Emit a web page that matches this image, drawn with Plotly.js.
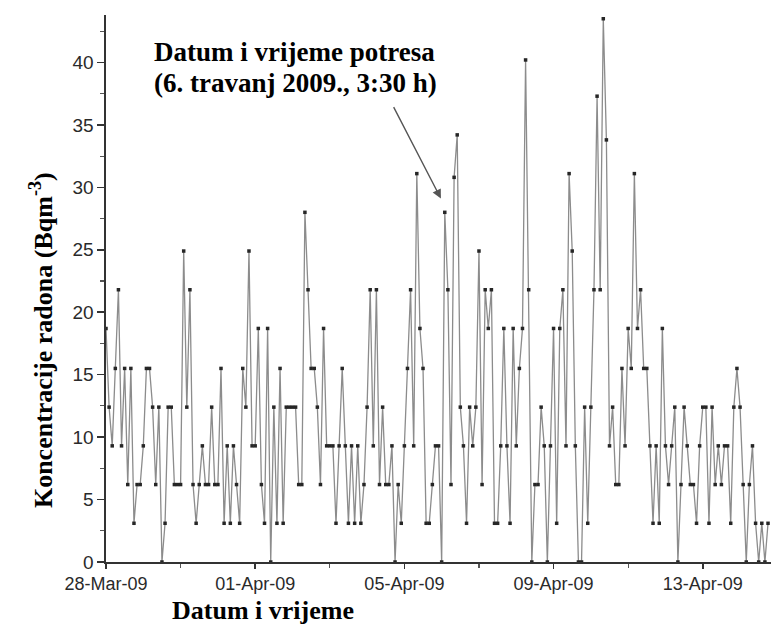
<!DOCTYPE html>
<html>
<head>
<meta charset="utf-8">
<script src="https://cdn.plot.ly/plotly-3.0.1.min.js"></script>
<style>html,body{margin:0;padding:0;background:#fff;}#chart{width:771px;height:626px;}</style>
</head>
<body>
<div id="chart"></div>
<script>
// Radon concentration (Bq m^-3), one reading every 2 hours from 28-Mar-2009 00:00
const startTime = '2009-03-28T00:00:00';
const stepHours = 2;

const radon_28Mar_31Mar = [18.7, 12.4, 9.3, 15.5, 21.8, 9.3, 15.5, 6.2, 15.5, 3.1, 6.2, 6.2,
  9.3, 15.5, 15.5, 12.4, 6.2, 12.4, 0, 3.1, 12.4, 12.4, 6.2, 6.2,
  6.2, 24.9, 12.4, 21.8, 6.2, 3.1, 6.2, 9.3, 6.2, 6.2, 12.4, 6.2,
  6.2, 15.5, 3.1, 9.3, 3.1, 9.3];
const radon_31Mar_03Apr = [6.2, 3.1, 15.5, 12.4, 24.9, 9.3, 9.3, 18.7, 6.2, 3.1, 18.7, 0,
  12.4, 3.1, 15.5, 3.1, 12.4, 12.4, 12.4, 12.4, 6.2, 6.2, 28.0, 21.8,
  15.5, 15.5, 12.4, 6.2, 18.7, 9.3, 9.3, 9.3, 3.1, 9.3, 15.5, 9.3,
  3.1, 9.3, 3.1, 9.3, 3.1, 6.2];
const radon_04Apr_07Apr = [12.4, 21.8, 9.3, 21.8, 6.2, 12.4, 6.2, 6.2, 9.3, 0, 6.2, 3.1,
  9.3, 15.5, 21.8, 9.3, 31.1, 18.7, 15.5, 3.1, 3.1, 6.2, 9.3, 9.3,
  0, 28.0, 21.8, 6.2, 30.8, 34.2, 12.4, 9.3, 3.1, 12.4, 9.3, 12.4,
  24.9, 6.2, 21.8, 18.7, 21.8, 3.1];
const radon_07Apr_11Apr = [3.1, 9.3, 18.7, 9.3, 3.1, 18.7, 9.3, 15.5, 18.7, 40.2, 21.8, 0,
  6.2, 6.2, 12.4, 9.3, 0, 9.3, 18.7, 3.1, 18.7, 21.8, 9.3, 31.1,
  24.9, 9.3, 0, 0, 12.4, 3.1, 12.4, 21.8, 37.3, 21.8, 43.5, 33.8,
  9.3, 12.4, 6.2, 6.2, 15.5, 9.3];
const radon_11Apr_14Apr = [18.7, 15.5, 31.1, 18.7, 21.8, 15.5, 15.5, 9.3, 3.1, 9.3, 3.1, 18.7,
  9.3, 6.2, 9.3, 12.4, 0, 6.2, 12.4, 9.3, 6.2, 6.2, 3.1, 9.3,
  12.4, 12.4, 3.1, 12.4, 6.2, 9.3, 6.2, 9.3, 9.3, 3.1, 12.4, 15.5,
  12.4, 6.2, 0, 6.2, 9.3, 3.1, 0, 3.1, 0, 3.1];

const radon = [].concat(radon_28Mar_31Mar, radon_31Mar_03Apr, radon_04Apr_07Apr,
                        radon_07Apr_11Apr, radon_11Apr_14Apr);

function pad(n){ return (n < 10 ? '0' : '') + n; }
const t0 = Date.parse(startTime + 'Z');
const times = radon.map(function(_, i){
  const d = new Date(t0 + i * stepHours * 3600000);
  return d.getUTCFullYear() + '-' + pad(d.getUTCMonth()+1) + '-' + pad(d.getUTCDate()) +
         ' ' + pad(d.getUTCHours()) + ':00';
});

const yTitle = 'Koncentracije radona (Bqm<sup>-3</sup>)';
const xTitle = 'Datum i vrijeme';
const quakeLine1 = 'Datum i vrijeme potresa';
const quakeLine2 = '(6. travanj 2009., 3:30 h)';

const trace = {
  x: times, y: radon, type: 'scatter', mode: 'lines+markers',
  line: {color: '#8c8c8c', width: 1.3},
  marker: {symbol: 'square', size: 3.5, color: '#262626'},
  hoverinfo: 'skip'
};

const serif = 'Liberation Serif, Times New Roman, serif';
const sans = 'Liberation Sans, Arial, sans-serif';

const layout = {
  width: 771, height: 626,
  margin: {l: 106, r: 0, t: 15, b: 64},
  paper_bgcolor: '#fff', plot_bgcolor: '#fff',
  showlegend: false,
  xaxis: {
    type: 'date',
    range: ['2009-03-28 00:00', '2009-04-14 19:55'],
    tick0: '2009-03-28', dtick: 4 * 86400000,
    tickformat: '%d-%b-%y',
    ticks: 'outside', ticklen: 5, tickwidth: 1.5, tickcolor: '#333',
    minor: {dtick: 2 * 86400000, ticks: 'outside', ticklen: 4, tickwidth: 1.2, tickcolor: '#555'},
    showline: true, linecolor: '#333', linewidth: 1.6,
    showgrid: false, zeroline: false,
    tickfont: {family: sans, size: 18, color: '#2a2a2a'}
  },
  yaxis: {
    range: [0, 43.8],
    tick0: 0, dtick: 5,
    ticks: 'outside', ticklen: 7, tickwidth: 1.5, tickcolor: '#333',
    minor: {dtick: 2.5, ticks: 'outside', ticklen: 4, tickwidth: 1.2, tickcolor: '#555'},
    showline: true, linecolor: '#333', linewidth: 1.6,
    showgrid: false, zeroline: false,
    tickfont: {family: sans, size: 19, color: '#2a2a2a'}
  },
  annotations: [
    {xref: 'paper', yref: 'paper', x: -0.096, y: 0.406, textangle: -90,
     text: yTitle, showarrow: false, xanchor: 'center', yanchor: 'middle',
     font: {family: serif, size: 26, color: '#000', weight: 'bold'}},
    {xref: 'paper', yref: 'paper', x: 0.236, y: -0.088,
     text: xTitle, showarrow: false, xanchor: 'center', yanchor: 'middle',
     font: {family: serif, size: 26, color: '#000', weight: 'bold'}},
    {xref: 'paper', yref: 'paper', x: 0.283, y: 0.933,
     text: quakeLine1, showarrow: false, xanchor: 'center', yanchor: 'middle',
     font: {family: serif, size: 27, color: '#000', weight: 'bold'}},
    {xref: 'paper', yref: 'paper', x: 0.285, y: 0.875,
     text: quakeLine2, showarrow: false, xanchor: 'center', yanchor: 'middle',
     font: {family: serif, size: 27, color: '#000', weight: 'bold'}},
    {xref: 'x', yref: 'y', x: '2009-04-05 23:30', y: 29.1,
     ax: -48, ay: -93, text: '', showarrow: true,
     arrowhead: 2, arrowsize: 1.3, arrowwidth: 1.4, arrowcolor: '#555'}
  ]
};

Plotly.newPlot('chart', [trace], layout, {staticPlot: true, displayModeBar: false});
</script>
</body>
</html>
